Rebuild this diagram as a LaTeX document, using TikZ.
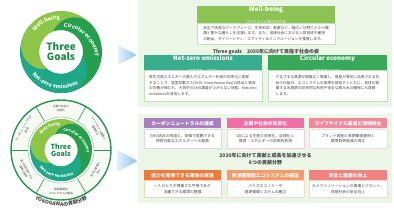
\documentclass[tikz,border=0pt]{standalone}
\usepackage{fontspec}
\setmainfont{Noto Sans CJK JP}
\usetikzlibrary{decorations.text}

\definecolor{panelbg}{RGB}{236,246,230}
\definecolor{wbcol}{RGB}{141,198,70}
\definecolor{cecol}{RGB}{38,158,78}
\definecolor{nzcol}{RGB}{30,168,136}
\definecolor{wbhead}{RGB}{141,194,84}
\definecolor{nzhead}{RGB}{56,174,142}
\definecolor{cehead}{RGB}{58,168,90}
\definecolor{bodyline}{RGB}{196,224,190}
\definecolor{txtgray}{RGB}{68,68,68}
\definecolor{goalgreen}{RGB}{26,140,74}
\definecolor{segfill}{RGB}{246,249,244}
\definecolor{segline}{RGB}{40,150,78}
\definecolor{purplehd}{RGB}{168,128,192}
\definecolor{pinkhd}{RGB}{238,112,166}
\definecolor{rosehd}{RGB}{242,136,156}
\definecolor{orangehd}{RGB}{239,122,60}
\definecolor{peachhd}{RGB}{245,155,105}
\definecolor{salmonhd}{RGB}{240,130,128}
\definecolor{arrowlt}{RGB}{226,240,251}
\definecolor{arrowdk}{RGB}{140,196,236}

\begin{document}
\begin{tikzpicture}[x=1pt, y=1pt,
    every node/.style={inner sep=0pt, text=txtgray},
    panel/.style={fill=panelbg},
    goalhead/.style={rectangle, fill=#1, text=white, align=center},
    goalbody/.style={rectangle, draw=bodyline, fill=white, line width=0.4pt, align=left, font=\fontsize{3.7}{5.4}\selectfont},
    areahead/.style={rectangle, fill=#1, text=white, minimum width=77.5, minimum height=10, font=\fontsize{4.8}{5}\selectfont\bfseries},
    areabody/.style={rectangle, draw=#1, fill=white, line width=0.4pt, minimum width=77.5, align=center, font=\fontsize{3.8}{5.4}\selectfont},
    heading/.style={align=center, font=\fontsize{5}{7.5}\selectfont\bfseries},
    segtext/.style={align=center, font=\fontsize{2.7}{3.8}\selectfont},
    pointer/.style={left color=arrowlt, right color=arrowdk, rounded corners=1.5pt}
  ]
  \useasboundingbox (0,0) rectangle (394,-219);

  % background panels
  \fill[panel] (138,-0.5) rectangle (392,-107);
  \fill[panel] (138,-114) rectangle (392,-203);

  % three goals
  \node[goalhead=wbhead, minimum width=138, minimum height=16] (wbh) at (266,-15)
    {{\fontsize{6.3}{6.5}\selectfont\bfseries Well-being}\\{\fontsize{3.6}{4}\selectfont すべての人の豊かな生活}};
  \node[goalbody, minimum width=138, minimum height=21] (wbb) at (266,-33.5)
    {安全で快適なワークプレース、生命科学、創薬など、幅広い分野で人々の健\\康と豊かな暮らしを支援します。また、地域社会における人財育成や雇用\\の創出、ダイバーシティ、エクイティ＆インクルージョンを推進します。};

  \node[heading] (goals-title) at (266,-52) {Three goals　2050年に向けて目指す社会の姿};

  \node[goalhead=nzhead, minimum width=118, minimum height=12] (nzh) at (203,-64)
    {{\fontsize{6.2}{6.3}\selectfont\bfseries Net-zero emissions}\\{\fontsize{3.6}{4}\selectfont 気候変動への対応}};
  \node[goalbody, minimum width=118, minimum height=31] (nzb) at (203,-85.5)
    {再生可能エネルギーの導入やエネルギー利用の効率化に貢献\\することで、温室効果ガス(GHG: Greenhouse Gas)の排出と吸収\\の均衡が保たれ、大気中のGHG濃度が上がらない状態、Net-zero\\emissionsを目指します。};

  \node[goalhead=cehead, minimum width=119, minimum height=12] (ceh) at (327.5,-64)
    {{\fontsize{6.2}{6.3}\selectfont\bfseries Circular economy}\\{\fontsize{3.6}{4}\selectfont 資源循環と効率化}};
  \node[goalbody, minimum width=119, minimum height=31] (ceb) at (327.5,-85.5)
    {さまざまな資源が無駄なく循環し、資産が有効に活用される社\\会の仕組み、エコシステムの実現を目指すとともに、地球を循\\環する水資源の効率的な利用や安全な飲み水の確保にも貢献\\します。};

  % six contribution areas
  \node[areahead=purplehd] (a1h) at (182.5,-123.5) {カーボンニュートラルの達成};
  \node[areabody=purplehd!35, minimum height=19] (a1b) at (182.5,-138.5) {GHG排出の削減と、安価で信頼できる\\持続可能なエネルギーへの転換};
  \node[areahead=pinkhd] (a2h) at (265.5,-123.5) {企業や社会の効率化};
  \node[areabody=pinkhd!35, minimum height=19] (a2b) at (265.5,-138.5) {DXによる生産の効率化、自律化と\\資源・エネルギーの効率的利用};
  \node[areahead=rosehd] (a3h) at (348,-123.5) {ライフサイクル最適と環境保全};
  \node[areabody=rosehd!35, minimum height=19] (a3b) at (348,-138.5) {プラント資産の長期最適運用と\\環境負荷低減の両立};

  \node[heading] (areas-title) at (265.5,-159) {2030年に向けて貢献と成長を加速させる\\6つの貢献分野};

  \node[areahead=orangehd] (a4h) at (182.5,-175.5) {能力を発揮できる環境の実現};
  \node[areabody=orangehd!35, minimum height=17] (a4b) at (182.5,-189) {一人ひとりが尊重され平等であり\\活躍できる環境の整備};
  \node[areahead=peachhd] (a5h) at (265.5,-175.5) {資源循環型エコシステムの創造};
  \node[areabody=peachhd!35, minimum height=17] (a5b) at (265.5,-189) {バイオエコノミーや\\資源循環システムの確立};
  \node[areahead=salmonhd] (a6h) at (348,-175.5) {安全と健康の向上};
  \node[areabody=salmonhd!35, minimum height=17] (a6b) at (348,-189) {ライフイノベーションの推進とプラント、\\地域社会の安全向上};

  % pointers
  \shade[pointer] (118,-45) -- (137,-55) -- (118,-65) -- cycle;
  \shade[pointer] (117,-150) -- (138,-161) -- (117,-172) -- cycle;

  % ring of contribution areas
  \coordinate (seg) at (61,-150);
  \fill[segfill] (seg) circle[radius=50];
  \fill[white] (seg) circle[radius=33];
  \foreach \ang in {0,60,...,300}
    \draw[segline, line width=0.6pt] ([shift={(\ang:33)}]seg) -- ([shift={(\ang:50)}]seg);
  \draw[segline, line width=1.4pt] (seg) circle[radius=50];
  \draw[segline!60, line width=0.4pt] (seg) circle[radius=33];
  \foreach \ang/\rot/\txt [count=\i] in {90/0/{企業や社会の\\効率化}, 30/-60/{ライフサイクル最適と\\環境保全}, -30/60/{安全と健康の\\向上}, -90/0/{資源循環型\\エコシステムの創造}, -150/-60/{能力を発揮できる\\環境の実現}, 150/60/{カーボンニュートラルの\\達成}}
    \node[segtext, rotate=\rot] (area-\i) at ([shift={(\ang:41.5)}]seg) {\txt};
  \begin{scope}
    \fontsize{5}{5}\selectfont\bfseries
    \pgfmathsetmacro\arcw{width("YOKOGAWAの貢献分野")/56*57.296}
    \path[decorate, decoration={text along path, text color=txtgray, text={YOKOGAWAの貢献分野}}]
      ([shift={(270-\arcw/2:56)}]seg) arc[start angle={270-\arcw/2}, delta angle={\arcw+4}, radius=56];
  \end{scope}

  % swirl of the three goals
  \foreach \cx/\cy/\s/\fs/\gs/\nm in {61/-52/1/5.3/10/big, 61/-150/0.756/3.9/7/small} {
    \foreach \a/\col/\dmax in {-10/nzcol/210, 230/wbcol/210, 110/cecol/210, -10/nzcol/120}
      \fill[\col] plot[domain=0:\dmax, samples=50]
          ({\cx+\s*(22+19*sin(min(90,\x*9/7)))*cos(\a-\x)}, {\cy+\s*(22+19*sin(min(90,\x*9/7)))*sin(\a-\x)})
        -- ({\cx+22*\s*cos(\a-\dmax)}, {\cy+22*\s*sin(\a-\dmax)})
        arc[start angle={\a-\dmax}, end angle={\a}, radius={22*\s}] -- cycle;
    \fontsize{\fs}{\fs}\selectfont\bfseries
    \pgfmathsetmacro\arcw{width("Well-being")/(33*\s)*57.296}
    \path[decorate, decoration={text along path, text color=white, text={Well-being}}]
      ({\cx+33*\s*cos(117+\arcw/2)}, {\cy+33*\s*sin(117+\arcw/2)}) arc[start angle={117+\arcw/2}, delta angle={-\arcw-4}, radius={33*\s}];
    \path[decorate, decoration={text along path, text color=white, text={Circular economy}}]
      ({\cx+3*\s}, {\cy+24.8*\s}) .. controls ({\cx+17*\s}, {\cy+26*\s}) and ({\cx+35*\s}, {\cy+10*\s}) .. ({\cx+35.5*\s}, {\cy-10*\s});
    \pgfmathsetmacro\arcw{width("Net-zero emissions")/(36.5*\s)*57.296}
    \path[decorate, decoration={text along path, text color=white, text={Net-zero emissions}}]
      ({\cx+36.5*\s*cos(258-\arcw/2)}, {\cy+36.5*\s*sin(258-\arcw/2)}) arc[start angle={258-\arcw/2}, delta angle={\arcw+4}, radius={36.5*\s}];
    \node[font=\fontsize{\gs}{\gs}\selectfont\bfseries, text=goalgreen, align=center] (goals-\nm) at (\cx,\cy) {Three\\Goals};
  }
\end{tikzpicture}
\end{document}
